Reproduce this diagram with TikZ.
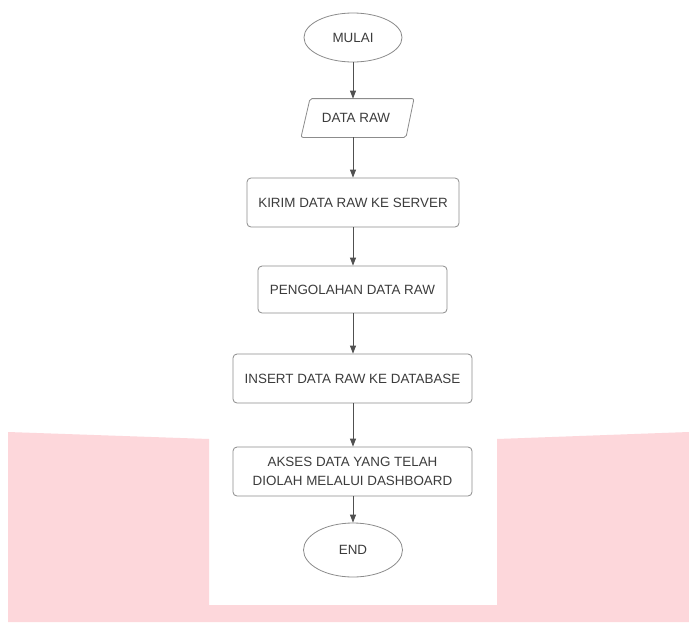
\documentclass[tikz,border=0pt]{standalone}
\usepackage{fontspec}
\setmainfont{Liberation Sans}
\usetikzlibrary{arrows.meta,shapes.geometric}
\definecolor{pinkbg}{RGB}{253,215,219}
\definecolor{edgegray}{RGB}{140,140,140}
\definecolor{txtgray}{RGB}{60,60,60}
\definecolor{arrowgray}{RGB}{80,80,80}
\tikzset{
  base/.style={draw=edgegray, line width=0.8pt, text=txtgray, font=\fontsize{13.4}{18.5}\selectfont, inner sep=0pt, align=center},
  procbox/.style={base, rectangle, rounded corners=4pt},
  term/.style={base, ellipse},
  flowarrow/.style={draw=arrowgray, line width=0.8pt, -{Triangle[length=8pt,width=6pt]}}
}
\begin{document}
\begin{tikzpicture}[x=1pt,y=-1pt]
\useasboundingbox (0,0) rectangle (689,622);
\fill[white] (0,0) rectangle (689,622);
% pink background
\fill[pinkbg] (8,432) -- (209,439) -- (209,605) -- (497,605) -- (497,439) -- (689,432) -- (689,622) -- (8,622) -- cycle;

\node[term, minimum width=98pt, minimum height=49pt] (mulai) at (353,37.5) {MULAI};
\node[base, draw=none, minimum width=100pt, minimum height=38pt] (dataraw) at (356,118) {DATA RAW};
\draw[edgegray, line width=0.8pt, rounded corners=2pt]
  ([xshift=-46pt]dataraw.north) -- ([xshift=58pt]dataraw.north) -- ([xshift=50pt]dataraw.south) -- ([xshift=-55pt]dataraw.south) -- cycle;
\node[procbox, minimum width=212pt, minimum height=49pt] (kirim) at (353,202.5) {KIRIM DATA RAW KE SERVER};
\node[procbox, minimum width=189pt, minimum height=47pt] (olah) at (352.5,289.5) {PENGOLAHAN DATA RAW};
\node[procbox, minimum width=239pt, minimum height=49pt] (insert) at (352.5,378.5) {INSERT DATA RAW KE DATABASE};
\node[procbox, fill=white, minimum width=239pt, minimum height=49pt] (akses) at (352.5,471.5) {AKSES DATA YANG TELAH\\DIOLAH MELALUI DASHBOARD};
\node[term, minimum width=99pt, minimum height=54pt] (end) at (353,550) {END};

\draw[flowarrow] (mulai.south) -- (mulai.south |- dataraw.north);
\draw[flowarrow] (dataraw.south -| mulai.south) -- (mulai.south |- kirim.north);
\draw[flowarrow] (kirim.south -| mulai.south) -- (mulai.south |- olah.north);
\draw[flowarrow] (olah.south -| mulai.south) -- (mulai.south |- insert.north);
\draw[flowarrow] (insert.south -| mulai.south) -- (mulai.south |- akses.north);
\draw[flowarrow] (akses.south -| mulai.south) -- (end.north);
\end{tikzpicture}
\end{document}
